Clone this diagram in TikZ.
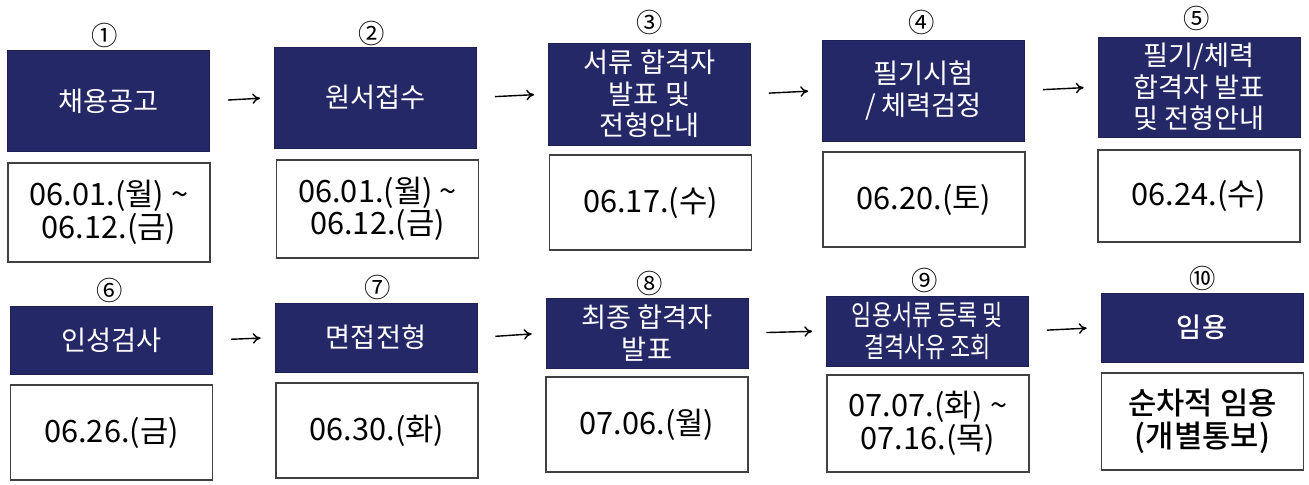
\documentclass[tikz,border=0pt]{standalone}
\usepackage{fontspec}
\setmainfont{Noto Sans CJK KR}
\newfontfamily\narrowfont[FakeStretch=0.78]{Noto Sans CJK KR}
\newfontfamily\mediumfont{Noto Sans CJK KR Medium}
\usetikzlibrary{positioning,arrows.meta}
\definecolor{navy}{RGB}{36,40,102}

\begin{document}
\begin{tikzpicture}[x=0.02cm, y=-0.02cm,
	titlebox/.style={fill=navy, draw=navy!80!black, text=white, minimum width=4.04cm,
		align=center, inner sep=0pt, font=\fontsize{15.5}{18}\selectfont},
	datebox/.style={draw=black!75, line width=0.8pt, fill=white, minimum width=4.04cm,
		align=center, inner sep=0pt, font=\fontsize{17.5}{18.5}\selectfont},
	num/.style={inner sep=0pt, font=\fontsize{15}{16}\selectfont},
	flow/.style={-{To[length=4.5pt,width=6pt]}, line width=0.8pt, shorten <=0.36cm, shorten >=0.28cm}]
	\useasboundingbox [fill=white] (0,0) rectangle (1309,484);

	% first row
	\node [titlebox, minimum height=2.02cm] (d1) at (108.5,101)  {채용공고};
	\node [titlebox, minimum height=2.02cm] (d2) at (375.5,97.5) {원서접수};
	\node [titlebox, minimum height=2.04cm] (d3) at (649.5,94)   {서류 합격자\\발표 및\\전형안내};
	\node [titlebox, minimum height=2.02cm] (d4) at (923.5,90.5) {필기시험\\/ 체력검정};
	\node [titlebox, minimum height=2.00cm] (d5) at (1199,87)    {필기/체력\\합격자 발표\\및 전형안내};

	\node [datebox, minimum height=1.98cm] (w1) at (109,212.5)  {06.01.(월) \textasciitilde\\06.12.(금)};
	\node [datebox, minimum height=1.96cm] (w2) at (377.5,209)  {06.01.(월) \textasciitilde\\06.12.(금)};
	\node [datebox, minimum height=1.90cm] (w3) at (650.5,202.5){06.17.(수)};
	\node [datebox, minimum height=1.90cm] (w4) at (924,199.5)  {06.20.(토)};
	\node [datebox, minimum height=1.84cm] (w5) at (1199,196)   {06.24.(수)};

	\node [num] (n1) at (105,35) {①};
	\node [num] (n2) at (372,33) {②};
	\node [num] (n3) at (650,22) {③};
	\node [num] (n4) at (922,22) {④};
	\node [num] (n5) at (1197,18) {⑤};

	\draw [flow] (d1.east) -- (d2.west);
	\draw [flow] (d2.east) -- (d3.west);
	\draw [flow] (d3.east) -- (d4.west);
	\draw [flow] (d4.east) -- (d5.west);

	% second row
	\node [titlebox, minimum height=1.36cm] (d6)  at (111.5,340)  {인성검사};
	\node [titlebox, minimum height=1.38cm] (d7)  at (376,337.5)  {면접전형};
	\node [titlebox, minimum height=1.40cm] (d8)  at (647,333)    {최종 합격자\\발표};
	\node [titlebox, minimum height=1.40cm, font=\fontsize{16}{18}\selectfont] (d9) at (927.5,331)
		{\narrowfont 임용서류 등록 및\\\narrowfont 결격사유 조회};
	\node [titlebox, minimum height=1.38cm] (d10) at (1202,327.5) {\mediumfont 임용};

	\node [datebox, minimum height=1.90cm] (w6)  at (111.5,432.5) {06.26.(금)};
	\node [datebox, minimum height=1.90cm] (w7)  at (377,430.5)   {06.30.(화)};
	\node [datebox, minimum height=1.90cm] (w8)  at (647,424.5)   {07.06.(월)};
	\node [datebox, minimum height=1.94cm] (w9)  at (928,423.5)   {07.07.(화) \textasciitilde\\07.16.(목)};
	\node [datebox, minimum height=1.94cm] (w10) at (1202.5,421.5){\mediumfont 순차적 임용\\\mediumfont (개별통보)};

	\node [num] (n6)  at (110,290)  {⑥};
	\node [num] (n7)  at (378,287)  {⑦};
	\node [num] (n8)  at (650,283)  {⑧};
	\node [num] (n9)  at (925,280)  {⑨};
	\node [num] (n10) at (1203,278) {⑩};

	\draw [flow] (d6.east) -- (d7.west);
	\draw [flow] (d7.east) -- (d8.west);
	\draw [flow] (d8.east) -- (d9.west);
	\draw [flow] (d9.east) -- (d10.west);
\end{tikzpicture}
\end{document}
